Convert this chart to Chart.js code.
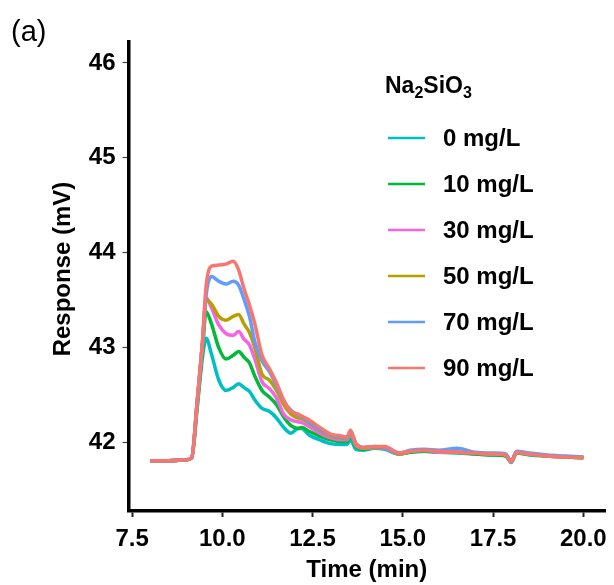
<!DOCTYPE html>
<html>
<head>
<meta charset="utf-8">
<script src="https://cdn.jsdelivr.net/npm/chart.js@4.4.0/dist/chart.umd.min.js"></script>
<style>
  html, body { margin: 0; padding: 0; background: #fff; }
  #wrap { width: 614px; height: 585px; }
</style>
</head>
<body>
<div id="wrap"><canvas id="chart" width="614" height="585"></canvas></div>
<script>
// time axis (min), shared by all series
const time = [8.0, 8.5, 9.0, 9.15, 9.3, 9.45, 9.55, 9.7, 9.9, 10.1,
  10.3, 10.45, 10.6, 10.75, 10.9, 11.1, 11.3, 11.5, 11.7, 11.9,
  12.1, 12.2, 12.4, 12.7, 13.0, 13.3, 13.45, 13.55, 13.7, 13.9,
  14.2, 14.5, 14.9, 15.2, 15.6, 16.0, 16.5, 17.0, 17.5, 17.85,
  18.0, 18.15, 18.5, 19.0, 19.5, 20.0];

// response (mV) per Na2SiO3 dose
const resp0 = [41.81, 41.81, 41.82, 41.84, 42.35, 42.90, 43.10, 42.93, 42.66, 42.55,
  42.58, 42.62, 42.58, 42.54, 42.45, 42.36, 42.33, 42.26, 42.16, 42.10,
  42.15, 42.15, 42.08, 42.03, 41.99, 41.98, 41.98, 42.03, 41.93, 41.92,
  41.94, 41.93, 41.88, 41.90, 41.91, 41.90, 41.89, 41.88, 41.87, 41.86,
  41.79, 41.89, 41.87, 41.86, 41.85, 41.84];
const resp10 = [41.81, 41.81, 41.82, 41.84, 42.38, 42.98, 43.38, 43.25, 43.00, 42.88,
  42.92, 42.96, 42.90, 42.84, 42.70, 42.55, 42.48, 42.40, 42.27, 42.18,
  42.15, 42.16, 42.12, 42.07, 42.03, 42.01, 42.01, 42.07, 41.96, 41.93,
  41.95, 41.94, 41.88, 41.90, 41.91, 41.90, 41.90, 41.88, 41.87, 41.86,
  41.80, 41.89, 41.88, 41.86, 41.85, 41.84];
const resp30 = [41.81, 41.81, 41.82, 41.84, 42.42, 43.05, 43.53, 43.42, 43.24, 43.15,
  43.13, 43.17, 43.09, 43.03, 42.88, 42.64, 42.57, 42.47, 42.30, 42.24,
  42.22, 42.21, 42.17, 42.10, 42.05, 42.03, 42.03, 42.09, 41.97, 41.94,
  41.95, 41.94, 41.88, 41.91, 41.92, 41.90, 41.90, 41.89, 41.88, 41.87,
  41.80, 41.90, 41.88, 41.86, 41.85, 41.85];
const resp50 = [41.81, 41.81, 41.82, 41.84, 42.42, 43.05, 43.50, 43.46, 43.33, 43.29,
  43.33, 43.35, 43.25, 43.16, 43.00, 42.72, 42.66, 42.55, 42.40, 42.30,
  42.26, 42.25, 42.21, 42.13, 42.07, 42.05, 42.04, 42.10, 41.98, 41.94,
  41.95, 41.95, 41.88, 41.91, 41.92, 41.91, 41.90, 41.89, 41.88, 41.87,
  41.80, 41.90, 41.88, 41.86, 41.85, 41.84];
const resp70 = [41.81, 41.81, 41.82, 41.84, 42.42, 43.05, 43.55, 43.75, 43.70, 43.67,
  43.70, 43.66, 43.51, 43.33, 43.06, 42.86, 42.75, 42.60, 42.44, 42.34,
  42.29, 42.27, 42.22, 42.14, 42.08, 42.06, 42.05, 42.11, 41.99, 41.95,
  41.96, 41.95, 41.89, 41.92, 41.93, 41.92, 41.94, 41.90, 41.89, 41.88,
  41.80, 41.91, 41.89, 41.87, 41.86, 41.85];
const resp90 = [41.81, 41.81, 41.82, 41.84, 42.42, 43.08, 43.65, 43.86, 43.87, 43.88,
  43.91, 43.82, 43.62, 43.45, 43.25, 42.92, 42.78, 42.63, 42.45, 42.33,
  42.30, 42.28, 42.24, 42.16, 42.09, 42.07, 42.06, 42.13, 41.99, 41.95,
  41.96, 41.96, 41.89, 41.91, 41.92, 41.91, 41.90, 41.89, 41.88, 41.87,
  41.80, 41.90, 41.88, 41.86, 41.85, 41.84];

const doses = ["0 mg/L", "10 mg/L", "30 mg/L", "50 mg/L", "70 mg/L", "90 mg/L"];
const series = [resp0, resp10, resp30, resp50, resp70, resp90];
const colors = ["#00BFC4", "#00BA38", "#F564E3", "#B79F00", "#619CFF", "#F8766D"];

const xTicks = [7.5, 10.0, 12.5, 15.0, 17.5, 20.0];
const yTicks = [42, 43, 44, 45, 46];

const FONT = "'Liberation Sans', Arial, sans-serif";

const datasets = series.map((arr, i) => ({
  label: doses[i],
  data: time.map((t, k) => ({ x: t, y: arr[k] })),
  borderColor: colors[i],
  backgroundColor: colors[i],
  borderWidth: 3.5,
  pointRadius: 0,
  fill: false,
  cubicInterpolationMode: "monotone",
  order: series.length - i   // 90 mg/L drawn on top, like ggplot
}));

// panel tag, y title and legend (with subscripts) drawn on the canvas
const extras = {
  id: "extras",
  afterDraw(chart) {
    const c = chart.ctx;
    c.save();
    c.fillStyle = "#000";
    c.textBaseline = "alphabetic";
    c.textAlign = "left";
    c.font = "29px " + FONT;
    c.fillText("(a)", 11, 41);

    // y axis title
    c.save();
    c.translate(63, 269);
    c.rotate(-Math.PI / 2);
    c.textAlign = "center";
    c.textBaseline = "middle";
    c.font = "bold 24px " + FONT;
    c.fillText("Response (mV)", 0, 0);
    c.restore();

    // legend title Na2SiO3
    let x = 385, base = 93;
    const parts = [["Na", 0], ["2", 1], ["SiO", 0], ["3", 1]];
    parts.forEach(([txt, sub]) => {
      c.font = (sub ? "bold 16px " : "bold 23px ") + FONT;
      c.fillText(txt, x, base + (sub ? 5 : 0));
      x += c.measureText(txt).width;
    });

    c.textBaseline = "middle";
    c.font = "bold 24px " + FONT;
    doses.forEach((d, i) => {
      const y = 138 + i * 46;
      c.strokeStyle = colors[i];
      c.lineWidth = 2.5;
      c.beginPath();
      c.moveTo(388, y);
      c.lineTo(425, y);
      c.stroke();
      c.fillText(d, 443, y + 1);
    });
    c.restore();
  }
};

new Chart(document.getElementById("chart"), {
  type: "line",
  data: { datasets },
  options: {
    responsive: false,
    animation: false,
    devicePixelRatio: 1,
    layout: { padding: { top: 42, right: 9, left: 0, bottom: 0 } },
    plugins: { legend: { display: false }, tooltip: { enabled: false } },
    scales: {
      x: {
        type: "linear",
        min: 7.4, max: 20.6,
        afterBuildTicks: s => { s.ticks = xTicks.map(v => ({ value: v })); },
        afterFit: s => { s.height = 74; s.paddingLeft = 0; s.paddingRight = 0; },
        border: { display: true, color: "#000", width: 3.5 },
        grid: { display: true, drawOnChartArea: false, drawTicks: true, tickLength: 6, tickColor: "#222", tickWidth: 2 },
        ticks: {
          color: "#000", padding: 8, maxRotation: 0, autoSkip: false,
          font: { family: FONT, size: 24, weight: "bold" },
          callback: v => Number(v).toFixed(1)
        },
        title: { display: true, text: "Time (min)", color: "#000", padding: { top: 0, bottom: 0 },
          font: { family: FONT, size: 24, weight: "bold" } }
      },
      y: {
        min: 41.28, max: 46.22,
        afterBuildTicks: s => { s.ticks = yTicks.map(v => ({ value: v })); },
        afterFit: s => { s.width = 128.5; s.paddingTop = 0; s.paddingBottom = 0; },
        border: { display: true, color: "#000", width: 3.5 },
        grid: { display: true, drawOnChartArea: false, drawTicks: true, tickLength: 6, tickColor: "#444", tickWidth: 1.2 },
        ticks: {
          color: "#000", padding: 7,
          font: { family: FONT, size: 24, weight: "bold" }
        },
        title: { display: false }
      }
    }
  },
  plugins: [extras]
});
</script>
</body>
</html>
